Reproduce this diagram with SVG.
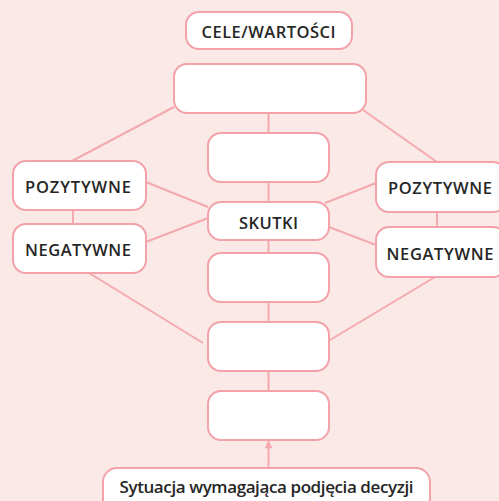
<svg xmlns="http://www.w3.org/2000/svg" width="499" height="501" viewBox="0 0 499 501">
<defs>
<style>
.box{fill:#ffffff;stroke:#f2a2a8;stroke-width:2}
.ln{stroke:#f4a9ae;stroke-width:2;fill:none}
.t{font-family:"Open Sans",Lato,"Liberation Sans",sans-serif;font-weight:600;fill:#262626;font-size:16.5px;text-anchor:middle}
</style>
<marker id="ah" viewBox="0 0 10 10" refX="9" refY="5" markerWidth="14" markerHeight="8" orient="auto" markerUnits="userSpaceOnUse">
<path d="M0,0 L10,5 L0,10 z" fill="#f4a9ae"/>
</marker>
</defs>
<rect width="499" height="501" fill="#fbe9e7"/>
<g id="connectors">
<line class="ln" x1="268.5" y1="113" x2="268.5" y2="133"/>
<line class="ln" x1="268.5" y1="182" x2="268.5" y2="202"/>
<line class="ln" x1="268.5" y1="240" x2="268.5" y2="253"/>
<line class="ln" x1="268.5" y1="302" x2="268.5" y2="322"/>
<line class="ln" x1="268.5" y1="371" x2="268.5" y2="391"/>
<line class="ln" x1="174" y1="107" x2="72" y2="161"/>
<line class="ln" x1="363" y1="110" x2="437" y2="162"/>
<line class="ln" x1="73" y1="210" x2="73" y2="224"/>
<line class="ln" x1="437" y1="212" x2="437" y2="227"/>
<line class="ln" x1="146" y1="182" x2="208" y2="207"/>
<line class="ln" x1="146" y1="242" x2="208" y2="218"/>
<line class="ln" x1="325" y1="203" x2="376" y2="183"/>
<line class="ln" x1="329" y1="227" x2="376" y2="245"/>
<line class="ln" x1="89" y1="273" x2="203" y2="343"/>
<line class="ln" x1="330" y1="340" x2="435" y2="277"/>
<line class="ln" x1="268.5" y1="468" x2="268.5" y2="441" marker-end="url(#ah)"/>
</g>
<g id="cele"><rect class="box" x="186" y="12" width="166" height="37" rx="13"/><text class="t" x="268.5" y="38" textLength="134">CELE/WARTOŚCI</text></g>
<g id="top-box"><rect class="box" x="174" y="64" width="192" height="49" rx="13"/></g>
<g id="box2"><rect class="box" x="208" y="133" width="121" height="49" rx="13"/></g>
<g id="skutki"><rect class="box" x="208" y="202" width="121" height="38" rx="13"/><text class="t" x="268.5" y="229" textLength="59">SKUTKI</text></g>
<g id="box3"><rect class="box" x="208" y="253" width="121" height="49" rx="13"/></g>
<g id="box4"><rect class="box" x="208" y="322" width="121" height="49" rx="13"/></g>
<g id="box5"><rect class="box" x="208" y="391" width="121" height="49" rx="13"/></g>
<g id="poz-left"><rect class="box" x="13" y="161" width="133" height="49" rx="13"/><text class="t" x="78" y="193" textLength="106">POZYTYWNE</text></g>
<g id="neg-left"><rect class="box" x="13" y="224" width="133" height="49" rx="13"/><text class="t" x="78" y="256" textLength="106">NEGATYWNE</text></g>
<g id="poz-right"><rect class="box" x="376" y="162" width="130" height="50" rx="13"/><text class="t" x="440" y="194" textLength="104">POZYTYWNE</text></g>
<g id="neg-right"><rect class="box" x="376" y="227" width="130" height="50" rx="13"/><text class="t" x="440" y="260" textLength="107">NEGATYWNE</text></g>
<g id="sytuacja"><rect class="box" x="103" y="468" width="327" height="45" rx="14"/><text class="t" x="266.5" y="493" textLength="294" style="font-size:17px">Sytuacja wymagająca podjęcia decyzji</text></g>
</svg>
